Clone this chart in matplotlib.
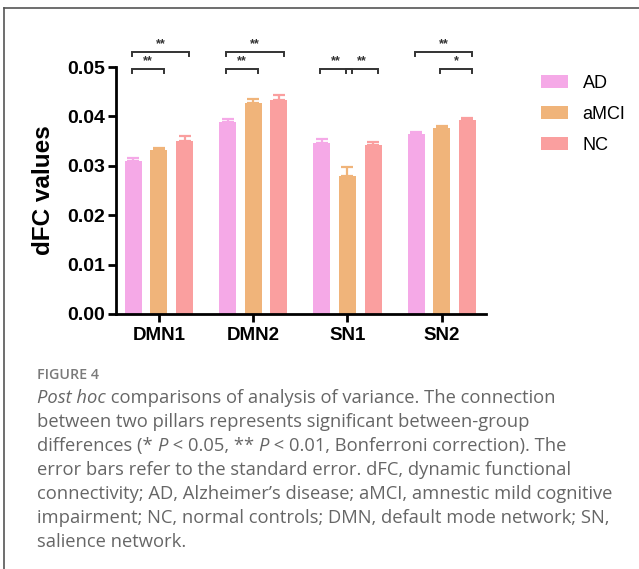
import matplotlib
matplotlib.use("Agg")
import matplotlib.pyplot as plt
from matplotlib.lines import Line2D
from matplotlib.patches import Patch
import numpy as np

# ---------------- data ----------------
networks = ["DMN1", "DMN2", "SN1", "SN2"]
groups = ["AD", "aMCI", "NC"]
ad_mean = [0.0310, 0.0388, 0.0346, 0.0364]
amci_mean = [0.0331, 0.0427, 0.0279, 0.0376]
nc_mean = [0.0351, 0.0433, 0.0343, 0.0392]
ad_se = [0.0005, 0.0006, 0.0008, 0.0005]
amci_se = [0.0006, 0.0009, 0.0018, 0.0004]
nc_se = [0.0009, 0.0011, 0.0006, 0.0005]
y_ticks = [0.00, 0.01, 0.02, 0.03, 0.04, 0.05]
y_label = "dFC values"
# significance: (network index, group i, group j, level, label)
comparisons = [
    (0, 0, 1, 0, "**"), (0, 0, 2, 1, "**"),
    (1, 0, 1, 0, "**"), (1, 0, 2, 1, "**"),
    (2, 0, 1, 0, "**"), (2, 1, 2, 0, "**"),
    (3, 1, 2, 0, "*"), (3, 0, 2, 1, "**"),
]
colors = ["#F5A9E7", "#F0B47A", "#FA9F9F"]

caption_title = "FIGURE 4"
caption_lines = [
    [("Post hoc", "italic"), (" comparisons of analysis of variance. The connection", "normal")],
    [("between two pillars represents significant between-group", "normal")],
    [("differences (* ", "normal"), ("P", "italic"), (" < 0.05, ** ", "normal"), ("P", "italic"),
     (" < 0.01, Bonferroni correction). The", "normal")],
    [("error bars refer to the standard error. dFC, dynamic functional", "normal")],
    [("connectivity; AD, Alzheimer\u2019s disease; aMCI, amnestic mild cognitive", "normal")],
    [("impairment; NC, normal controls; DMN, default mode network; SN,", "normal")],
    [("salience network.", "normal")],
]

# ---------------- figure ----------------
W, H = 639, 569
fig = plt.figure(figsize=(W / 100, H / 100), dpi=100)
fig.patch.set_facecolor("white")

def fx(px):
    return px / W

def fy(py):
    return 1 - py / H

ax_left, ax_right, ax_top, ax_bot = 116, 486, 67, 314
ax = fig.add_axes([fx(ax_left), fy(ax_bot), fx(ax_right - ax_left), (ax_bot - ax_top) / H])

bar_font = "Liberation Sans"
means = [ad_mean, amci_mean, nc_mean]
ses = [ad_se, amci_se, nc_se]
x = np.arange(len(networks))
offset = 0.272
width = 0.18
for g in range(3):
    xs = x + (g - 1) * offset
    ax.bar(xs, means[g], width=width, color=colors[g], zorder=2, clip_on=False)
    ax.errorbar(xs, means[g], yerr=[np.zeros(len(x)), ses[g]], fmt="none",
                ecolor=colors[g], elinewidth=1.6, capsize=4.5, capthick=1.6, zorder=3, clip_on=False)

ax.set_xlim(-0.456, 3.47)
ax.set_ylim(0, 0.05)
ax.set_yticks(y_ticks)
ax.set_yticklabels([f"{v:.2f}" for v in y_ticks])
ax.set_xticks(x)
ax.set_xticklabels(networks)
for s in ["top", "right"]:
    ax.spines[s].set_visible(False)
for s in ["left", "bottom"]:
    ax.spines[s].set_linewidth(2.0)
    ax.spines[s].set_color("black")
ax.tick_params(axis="both", direction="out", length=6, width=2.0, color="black")
ax.tick_params(axis="y", pad=2)
ax.tick_params(axis="x", pad=3)
for lab in ax.get_yticklabels():
    lab.set_fontfamily(bar_font)
    lab.set_fontweight("bold")
    lab.set_fontsize(14)
for lab in ax.get_xticklabels():
    lab.set_fontfamily(bar_font)
    lab.set_fontweight("bold")
    lab.set_fontsize(13.5)
ax.set_ylabel(y_label, fontfamily=bar_font, fontweight="bold", fontsize=17.5, labelpad=9)
ax.patch.set_alpha(0)

# significance brackets
levels = [0.0496, 0.0531]
tick_h = 0.0008
for (n, i, j, lev, lab) in comparisons:
    x1 = x[n] + (i - 1) * offset - 0.015
    x2 = x[n] + (j - 1) * offset + 0.05
    yb = levels[lev]
    ax.plot([x1, x1, x2, x2], [yb - tick_h, yb, yb, yb - tick_h], color="#333333",
            lw=1.4, clip_on=False, zorder=4, solid_joinstyle="miter")
    ax.text((x1 + x2) / 2, yb + 0.0003, lab, ha="center", va="bottom", fontsize=9,
            fontfamily=bar_font, fontweight="bold", color="#333333", clip_on=False)

# legend
handles = [Patch(facecolor=c, edgecolor="none") for c in colors]
leg = fig.legend(handles, groups, loc="upper left", bbox_to_anchor=(fx(541), fy(75)),
                 frameon=False, prop={"family": bar_font, "size": 13},
                 handlelength=1.5, handleheight=0.75, handletextpad=0.8, labelspacing=0.78,
                 borderaxespad=0, borderpad=0)

# frame (top and left lines of the cropped panel)
fig.add_artist(Line2D([fx(4), fx(4)], [fy(8), 0], color="#555555", lw=1.2))
fig.add_artist(Line2D([fx(4), 1], [fy(8), fy(8)], color="#555555", lw=1.2))

# caption
cap_font = "Open Sans"
fig.text(fx(37), fy(375), caption_title, fontfamily=cap_font, fontweight="semibold",
         fontsize=10.3, color="#7a7a7a", va="center", ha="left")
fig.canvas.draw()
renderer = fig.canvas.get_renderer()
line_y0, line_dy = 398, 24
for k, segs in enumerate(caption_lines):
    cur = 37
    for txt, style in segs:
        t = fig.text(fx(cur), fy(line_y0 + k * line_dy), txt, fontfamily=cap_font,
                     fontstyle=style, fontsize=13.2, color="#666666", va="center", ha="left")
        bb = t.get_window_extent(renderer=renderer)
        cur = bb.x1

fig.savefig("out.png", dpi=100)
